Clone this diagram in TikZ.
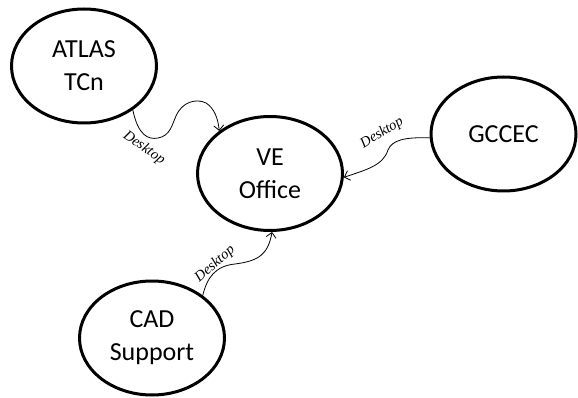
\documentclass[tikz,border=0pt]{standalone}
\usepackage{fontspec}
\setmainfont{Carlito}
\newfontfamily\lblfont{Liberation Serif}
\usetikzlibrary{shapes.geometric,arrows.meta}
\begin{document}
\begin{tikzpicture}[x=1pt,y=-1pt,
 state/.style={ellipse,draw,line width=3pt,inner sep=0pt,minimum width=145pt,minimum height=114pt,align=center,font=\fontsize{26}{33}\selectfont},
 link/.style={line width=0.8pt,-{Straight Barb[length=5pt,width=10pt]}},
 lbl/.style={font=\lblfont\itshape\fontsize{14.5}{16}\selectfont,inner sep=1pt}]
\useasboundingbox (0,0) rectangle (578,398);
\node[state] (atlas) at (84,66) {ATLAS\\TCn};
\node[state] (ve) at (270,173.5) {VE\\Office};
\node[state] (gccec) at (503.5,134) {GCCEC};
\node[state] (cad) at (152,338) {CAD\\Support};
\draw[link] (atlas.-42) .. controls (138,135) and (148,140) .. (158,138)
 .. controls (170,136) and (172,125) .. (176,116)
 .. controls (182,102) and (196,98) .. (206,103)
 .. controls (214,108) and (218,118) .. (ve.140);
\draw[link] (gccec.183) .. controls (405,137) and (392,140) .. (388,150)
 .. controls (383,166) and (365,170) .. (ve.-3);
\draw[link] (cad.40) .. controls (207,278) and (215,266) .. (235,264)
 .. controls (258,261) and (268,255) .. (ve.-88);
\node[lbl,rotate=-35] (l1) at (144,148) {Desktop};
\node[lbl,rotate=32] (l2) at (382,133) {Desktop};
\node[lbl,rotate=41] (l3) at (215,264) {Desktop};
\end{tikzpicture}
\end{document}
